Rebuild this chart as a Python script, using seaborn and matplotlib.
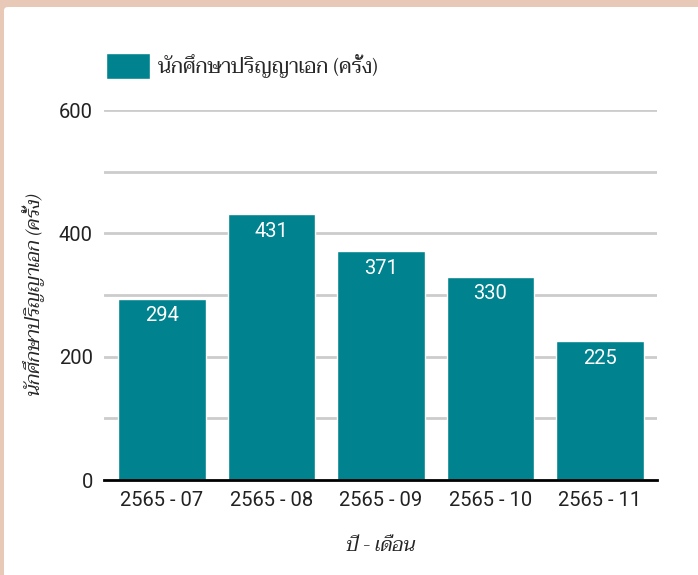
import matplotlib
matplotlib.use("Agg")
import matplotlib.pyplot as plt
from matplotlib.patches import FancyBboxPatch
import seaborn as sns
import pandas as pd

categories = ["2565 - 07", "2565 - 08", "2565 - 09", "2565 - 10", "2565 - 11"]
values = [294, 431, 371, 330, 225]
series_name = "นักศึกษาปริญญาเอก (ครั้ง)"
x_title = "ปี - เดือน"
y_title = "นักศึกษาปริญญาเอก (ครั้ง)"
y_ticks = [0, 200, 400, 600]

sns.set_theme(style="white")
plt.rcParams['font.family'] = ['Roboto', 'Loma', 'DejaVu Sans']
THAI = ['Taviraj', 'Loma', 'DejaVu Sans']

df = pd.DataFrame({"cat": categories, "val": values})
fig = plt.figure(figsize=(6.98, 5.75), dpi=100, facecolor="#E8C9B8")
fig.patches.append(FancyBboxPatch((4/698, -0.05), 1.1, 1 - 7/575 + 0.05,
                                  boxstyle="round,pad=0,rounding_size=0.006",
                                  transform=fig.transFigure, facecolor="white",
                                  edgecolor="none", zorder=-5))
ax = fig.add_axes([104/698, 1 - 480/575, (657-104)/698, 370/575])
ax.set_facecolor("none")
sns.barplot(data=df, x="cat", y="val", color="#00838F", width=0.8, ax=ax,
            saturation=1, label=series_name, zorder=3)
ax.set_ylim(0, 600)
ax.set_xlim(-0.53, 4.52)
for v in range(100, 700, 100):
    ax.axhline(v, color="#CCCCCC", lw=2, zorder=1)
ax.set_yticks(y_ticks)
ax.tick_params(axis='both', labelsize=14.5, colors="#222222", length=0, pad=8)
for s in ["left", "right", "top"]:
    ax.spines[s].set_visible(False)
ax.spines["bottom"].set_color("black")
ax.spines["bottom"].set_linewidth(2)
ax.spines["bottom"].set_zorder(5)
for c in ax.containers:
    ax.bar_label(c, labels=[str(v) for v in values], padding=-19, color="white", fontsize=14.5)
ax.set_xlabel(x_title, fontsize=14, style="italic", labelpad=20, family=THAI)
ax.set_ylabel(y_title, fontsize=14, style="italic", labelpad=10, family=THAI)
leg = ax.legend(loc="lower left", bbox_to_anchor=(0.003, 1.085), frameon=False, fontsize=14.6,
                handlelength=2.2, handleheight=1.55, borderpad=0, borderaxespad=0,
                handletextpad=0.4)
for t in leg.get_texts():
    t.set_family(THAI)
fig.savefig("out.png", dpi=100, facecolor=fig.get_facecolor())
